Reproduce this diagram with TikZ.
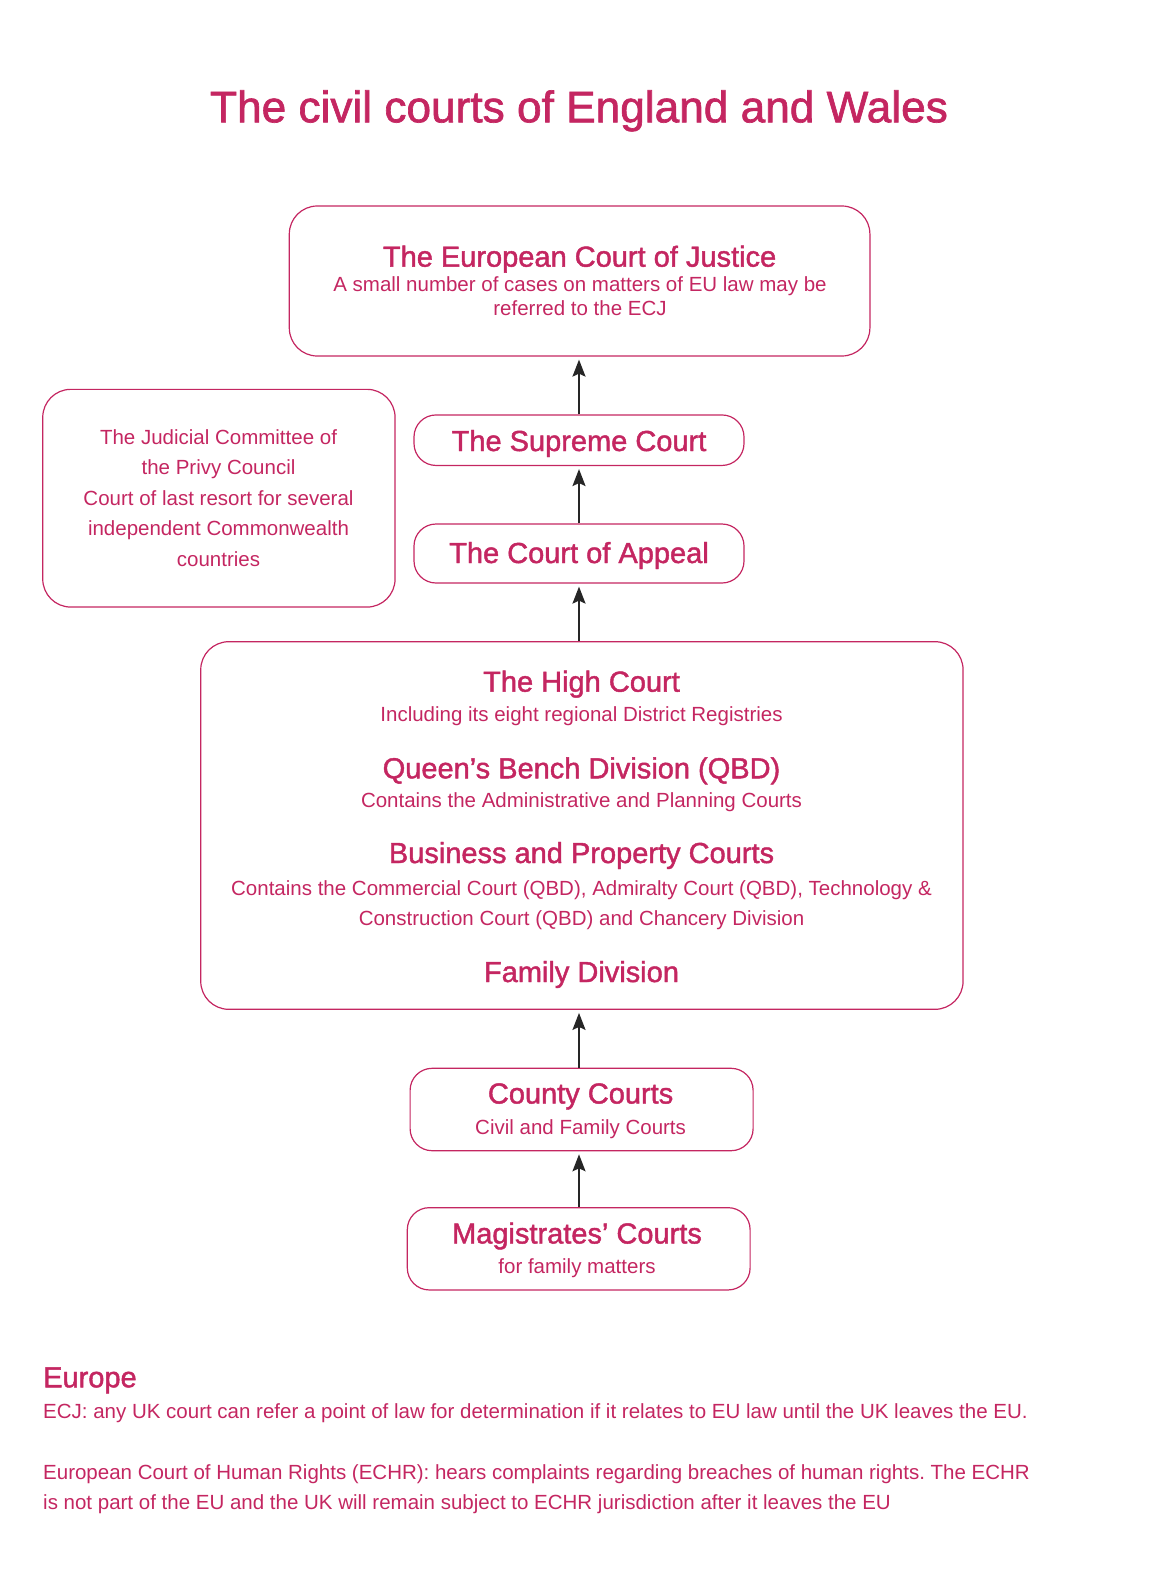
\documentclass[tikz,border=0pt]{standalone}
\usepackage{fontspec}
\setmainfont{Liberation Sans}
\newfontfamily\headfont{Liberation Sans}[FakeBold=1.5]
\usetikzlibrary{arrows.meta}
\definecolor{courtpink}{RGB}{196,38,97}
\frenchspacing

\begin{document}
\begin{tikzpicture}[x=1pt,y=-1pt,
    box/.style={draw=courtpink,line width=1.2pt,rounded corners=28pt,inner sep=0pt},
    smallbox/.style={box,rounded corners=22pt},
    head/.style={anchor=base,inner sep=0pt,text=courtpink,font=\headfont\fontsize{29}{34}\selectfont},
    sub/.style={anchor=base,inner sep=0pt,text=courtpink,font=\fontsize{20.5}{25}\selectfont},
    note/.style={sub,anchor=base west},
    uparrow/.style={draw=black!85,line width=2pt,-{Stealth[length=17pt,width=13pt,inset=3pt]},shorten >=3pt}]
  \useasboundingbox (0,0) rectangle (1150,1592);

  % title
  \node[head,font=\headfont\fontsize{44.2}{50}\selectfont] (title) at (579,122.3) {The civil courts of England and Wales};

  % boxes
  \node[box,minimum width=580.6pt,minimum height=150pt] (ecj) at (579.6,281) {};
  \node[smallbox,minimum width=330pt,minimum height=50.5pt] (sup) at (579,440.2) {};
  \node[smallbox,minimum width=330pt,minimum height=59pt] (app) at (579,553.5) {};
  \node[box,minimum width=352.3pt,minimum height=217.7pt] (jcpc) at (218.9,498.2) {};
  \node[box,minimum width=762.3pt,minimum height=367.6pt] (high) at (581.9,825.5) {};
  \node[smallbox,minimum width=343pt,minimum height=82.4pt] (cty) at (581.6,1109.5) {};
  \node[smallbox,minimum width=342.8pt,minimum height=82.3pt] (mag) at (578.7,1248.8) {};

  % box texts
  \node[head] (ecjhead) at (579.6,266.7) {The European Court of Justice};
  \node[sub] (ecjsub1) at (580,291.7) {A small number of cases on matters of EU law may be};
  \node[sub] (ecjsub2) at (580,315.7) {referred to the ECJ};

  \node[head] (suphead) at (579,451) {The Supreme Court};
  \node[head] (apphead) at (579,563) {The Court of Appeal};

  \node[sub] (jcpc1) at (218.5,444) {The Judicial Committee of};
  \node[sub] (jcpc2) at (218.5,474.5) {the Privy Council};
  \node[sub] (jcpc3) at (218.5,505) {Court of last resort for several};
  \node[sub] (jcpc4) at (218.5,535.5) {independent Commonwealth};
  \node[sub] (jcpc5) at (218.5,566) {countries};

  \node[head] (highhead) at (581.5,691.7) {The High Court};
  \node[sub] (highsub) at (581.5,721.7) {Including its eight regional District Registries};
  \node[head] (qbdhead) at (581.5,778.3) {Queen’s Bench Division (QBD)};
  \node[sub] (qbdsub) at (581.5,807.7) {Contains the Administrative and Planning Courts};
  \node[head] (bpchead) at (581.5,863) {Business and Property Courts};
  \node[sub] (bpcsub1) at (581.5,895) {Contains the Commercial Court (QBD), Admiralty Court (QBD), Technology \&};
  \node[sub] (bpcsub2) at (581.5,925) {Construction Court (QBD) and Chancery Division};
  \node[head] (famhead) at (581.5,982) {Family Division};

  \node[head] (ctyhead) at (580.6,1103.5) {County Courts};
  \node[sub] (ctysub) at (580.6,1134) {Civil and Family Courts};
  \node[head] (maghead) at (577,1243.5) {Magistrates’ Courts};
  \node[sub] (magsub) at (577,1273.5) {for family matters};

  % arrows up the hierarchy
  \draw[uparrow] (sup.north) -- (sup.north |- ecj.south);
  \draw[uparrow] (app.north) -- (sup.south);
  \draw[uparrow] (high.north -| app.south) -- (app.south);
  \draw[uparrow] (cty.north -| app.south) -- (app.south |- high.south);
  \draw[uparrow] (mag.north -| app.south) -- (app.south |- cty.south);

  % notes on Europe
  \node[head,anchor=base west] (europe) at (43,1387.3) {Europe};
  \node[note] (note1) at (43,1418.3) {ECJ: any UK court can refer a point of law for determination if it relates to EU law until the UK leaves the EU.};
  \node[note] (note2) at (43,1479) {European Court of Human Rights (ECHR): hears complaints regarding breaches of human rights. The ECHR};
  \node[note] (note3) at (43,1509.5) {is not part of the EU and the UK will remain subject to ECHR jurisdiction after it leaves the EU};
\end{tikzpicture}
\end{document}
